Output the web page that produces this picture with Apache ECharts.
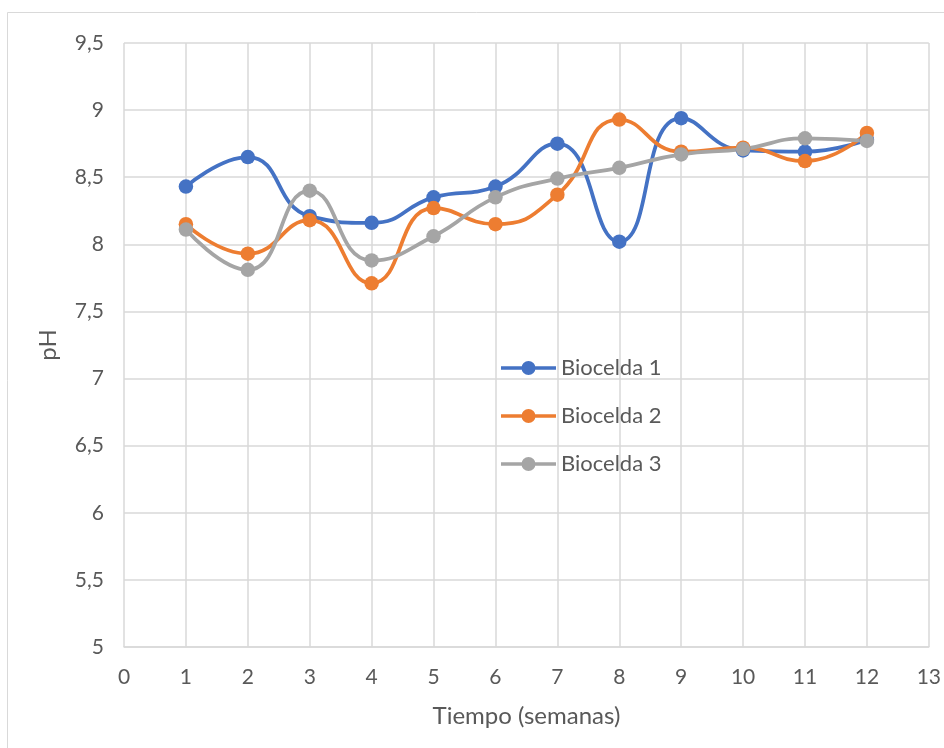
<!DOCTYPE html>
<html>
<head>
<meta charset="utf-8">
<script src="https://cdn.jsdelivr.net/npm/echarts@6/dist/echarts.min.js"></script>
<style>
  html, body { margin: 0; padding: 0; background: #fff; }
  #chart { width: 944px; height: 748px; }
</style>
</head>
<body>
<div id="chart"></div>
<script>
// Weeks of sampling
const weeks = [1, 2, 3, 4, 5, 6, 7, 8, 9, 10, 11, 12];
// pH readings for each biocell
const biocelda1 = [8.43, 8.65, 8.21, 8.16, 8.35, 8.43, 8.75, 8.02, 8.94, 8.70, 8.69, 8.78];
const biocelda2 = [8.15, 7.93, 8.18, 7.71, 8.27, 8.15, 8.37, 8.93, 8.69, 8.72, 8.62, 8.83];
const biocelda3 = [8.11, 7.81, 8.40, 7.88, 8.06, 8.35, 8.49, 8.57, 8.67, 8.71, 8.79, 8.77];
const seriesNames = ['Biocelda 1', 'Biocelda 2', 'Biocelda 3'];
const seriesColors = ['#4472C4', '#ED7D31', '#A5A5A5'];

const FONT = 'Lato, "Open Sans", sans-serif';
const TEXT = '#595959';
const GRID = '#d9d9d9';

// Legend key: a thick line segment with a round marker in the middle
const LEGEND_ICON = 'path://M0 5.75H55V9.25H0Z M20.5 7.5A7 7 0 1 1 34.5 7.5A7 7 0 1 1 20.5 7.5Z';

const chart = echarts.init(document.getElementById('chart'), null, { renderer: 'canvas' });

const pairs = vals => weeks.map((w, i) => [w, vals[i]]);

const makeSeries = (name, vals, color) => ({
  name: name,
  type: 'line',
  data: pairs(vals),
  smooth: 0.5,
  symbol: 'circle',
  symbolSize: 14.5,
  lineStyle: { color: color, width: 3.75 },
  itemStyle: { color: color },
  emphasis: { disabled: true },
  z: 3
});

chart.setOption({
  animation: false,
  backgroundColor: '#fff',
  graphic: [{
    type: 'rect',
    shape: { x: 7.5, y: 12.5, width: 960, height: 760 },
    style: { fill: 'none', stroke: GRID, lineWidth: 1 },
    silent: true
  }],
  grid: { left: 124, right: 14, top: 43, bottom: 101 },
  legend: {
    left: 496,
    top: 351,
    orient: 'vertical',
    itemWidth: 55,
    itemHeight: 15,
    itemGap: 24,
    icon: LEGEND_ICON,
    data: seriesNames,
    textStyle: { color: TEXT, fontSize: 22, fontFamily: FONT, lineHeight: 24 }
  },
  xAxis: {
    type: 'value',
    min: 0,
    max: 13,
    interval: 1,
    name: 'Tiempo (semanas)',
    nameLocation: 'middle',
    nameGap: 57,
    nameTextStyle: { color: TEXT, fontSize: 24, fontFamily: FONT },
    axisLine: { show: true, lineStyle: { color: GRID, width: 1.5 } },
    axisTick: { show: false },
    axisLabel: { color: TEXT, fontSize: 21, fontFamily: FONT, margin: 20 },
    splitLine: { show: true, lineStyle: { color: GRID, width: 1.5 } }
  },
  yAxis: {
    type: 'value',
    min: 5,
    max: 9.5,
    interval: 0.5,
    name: 'pH',
    nameLocation: 'middle',
    nameGap: 64,
    nameRotate: 90,
    nameTextStyle: { color: TEXT, fontSize: 24, fontFamily: FONT },
    axisLine: { show: false },
    axisTick: { show: false },
    axisLabel: {
      color: TEXT, fontSize: 21, fontFamily: FONT, margin: 20,
      formatter: v => String(v).replace('.', ',')
    },
    splitLine: { show: true, lineStyle: { color: GRID, width: 1.5 } }
  },
  series: seriesNames.map((n, i) => makeSeries(n, [biocelda1, biocelda2, biocelda3][i], seriesColors[i]))
});
</script>
</body>
</html>
